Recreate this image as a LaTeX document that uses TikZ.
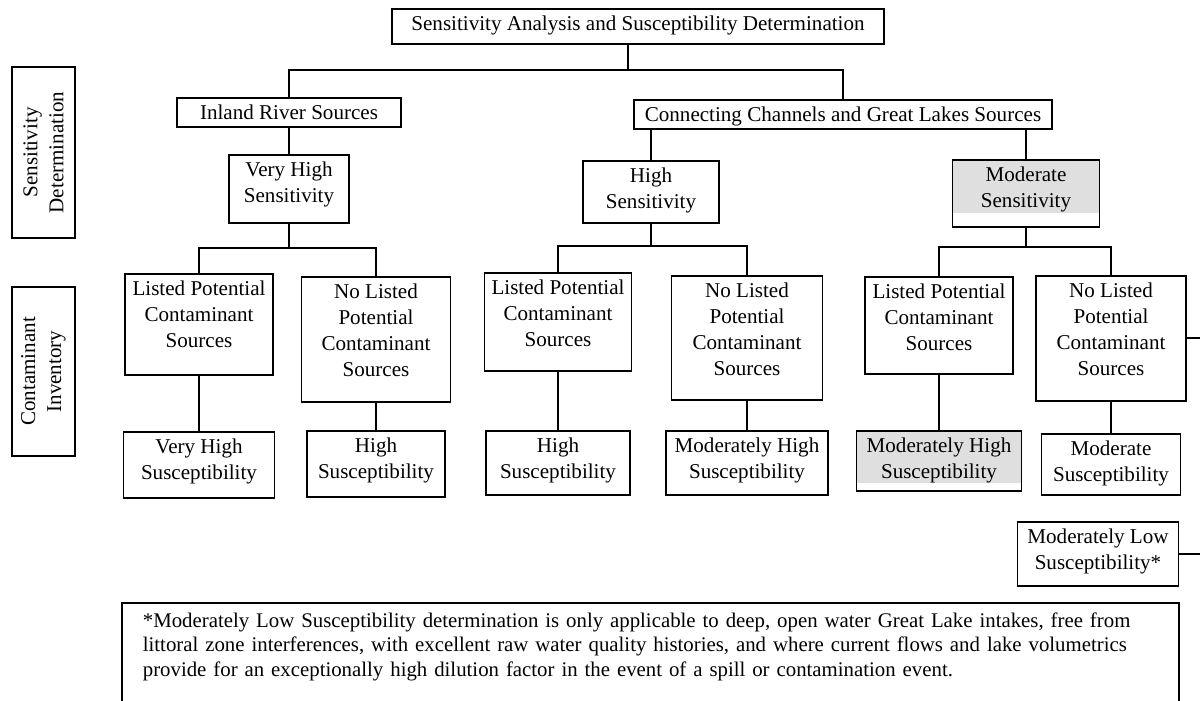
\documentclass[tikz,border=0pt]{standalone}
\usepackage{fontspec}
\setmainfont{Liberation Serif}
\newcommand{\boxtxt}[1]{\begin{tabular}[t]{@{}c@{}}#1\end{tabular}}

\begin{document}
\begin{tikzpicture}[x=0.02cm, y=-0.02cm, line width=1pt,
  box/.style={draw, anchor=north, inner sep=0pt, text height=0.44cm,
    font=\fontsize{12}{14.8}\selectfont},
  side/.style={draw, rotate=90, inner sep=0pt, align=center,
    minimum height=1.26cm, font=\fontsize{12}{14.8}\selectfont},
  greyed/.style={path picture={\fill[gray!25] (path picture bounding box.north west)
    rectangle ([yshift=#1]path picture bounding box.south east);}},
]
  \useasboundingbox (0,0) rectangle (1200,700);

  % side labels
  \node[side, minimum width=3.42cm] (sens) at (43.5,152.5) {Sensitivity\\Determination};
  \node[side, minimum width=3.38cm] (inv)  at (43.5,371.5) {Contaminant\\Inventory};

  % top levels
  \node[box, minimum width=9.84cm, text depth=0.26cm] (top)    at (638,8)  {Sensitivity Analysis and Susceptibility Determination};
  \node[box, minimum width=4.48cm, text depth=0.14cm] (inland) at (289,97) {Inland River Sources};
  \node[box, minimum width=8.36cm, text depth=0.14cm] (conn)   at (843,99) {Connecting Channels and Great Lakes Sources};

  % sensitivity
  \node[box, minimum width=2.4cm,  text depth=0.92cm] (vhs) at (289,154)  {\boxtxt{Very High\\Sensitivity}};
  \node[box, minimum width=2.72cm, text depth=0.8cm]  (hs)  at (651,160)  {\boxtxt{High\\Sensitivity}};
  \node[box, minimum width=2.94cm, text depth=0.9cm, greyed=0.28cm] (ms) at (1026,159) {\boxtxt{Moderate\\Sensitivity}};

  % contaminant inventory
  \node[box, minimum width=2.96cm, text depth=1.58cm] (l1) at (199,273)  {\boxtxt{Listed Potential\\Contaminant\\Sources}};
  \node[box, minimum width=2.98cm, text depth=2.06cm] (n1) at (376,276)  {\boxtxt{No Listed\\Potential\\Contaminant\\Sources}};
  \node[box, minimum width=2.94cm, text depth=1.52cm] (l2) at (558,272)  {\boxtxt{Listed Potential\\Contaminant\\Sources}};
  \node[box, minimum width=3.02cm, text depth=2.04cm] (n2) at (747,275)  {\boxtxt{No Listed\\Potential\\Contaminant\\Sources}};
  \node[box, minimum width=2.96cm, text depth=1.5cm]  (l3) at (939,276)  {\boxtxt{Listed Potential\\Contaminant\\Sources}};
  \node[box, minimum width=3.0cm,  text depth=2.06cm] (n3) at (1111,275) {\boxtxt{No Listed\\Potential\\Contaminant\\Sources}};

  % susceptibility
  \node[box, minimum width=3.02cm, text depth=0.88cm] (s1) at (199,431)  {\boxtxt{Very High\\Susceptibility}};
  \node[box, minimum width=2.76cm, text depth=0.88cm] (s2) at (376,430)  {\boxtxt{High\\Susceptibility}};
  \node[box, minimum width=2.88cm, text depth=0.84cm] (s3) at (558,430)  {\boxtxt{High\\Susceptibility}};
  \node[box, minimum width=3.24cm, text depth=0.84cm] (s4) at (747,430)  {\boxtxt{Moderately High\\Susceptibility}};
  \node[box, minimum width=3.3cm,  text depth=0.76cm, greyed=0.16cm] (s5) at (939,430) {\boxtxt{Moderately High\\Susceptibility}};
  \node[box, minimum width=2.78cm, text depth=0.78cm] (s6) at (1111,433) {\boxtxt{Moderate\\Susceptibility}};
  \node[box, minimum width=3.22cm, text depth=0.84cm] (s7) at (1098,521) {\boxtxt{Moderately Low\\Susceptibility*}};

  % footnote
  \node[draw, anchor=north west, inner xsep=0.42cm, inner ysep=0pt, text width=20.3cm,
    align=left, text height=0.5cm, text depth=1.66cm,
    font=\fontsize{11.85}{13.7}\selectfont] (note) at (121,602)
    {*Moderately Low Susceptibility determination is only applicable to deep, open water Great Lake intakes, free from\\
     littoral zone interferences, with excellent raw water quality histories, and where current flows and lake volumetrics\\
     provide for an exceptionally high dilution factor in the event of a spill or contamination event.};

  % junctions
  \coordinate (j0) at (628,70);
  \coordinate (j1) at (289,248);
  \coordinate (j2) at (651,246);
  \coordinate (j3) at (1026,247);
  \coordinate (edge) at (1200,0);

  % connectors
  \draw (top.south -| j0) -- (j0);
  \draw (inland.north) |- (j0) -| (conn.north);
  \draw (inland) -- (vhs);
  \draw (hs.north) -- (hs.north |- conn.south);
  \draw (ms.north) -- (ms.north |- conn.south);
  \draw (vhs) -- (j1);
  \draw (l1.north) |- (j1) -| (n1.north);
  \draw (hs) -- (j2);
  \draw (l2.north) |- (j2) -| (n2.north);
  \draw (ms) -- (j3);
  \draw (l3.north) |- (j3) -| (n3.north);
  \draw (l1) -- (s1);
  \draw (n1) -- (s2);
  \draw (l2) -- (s3);
  \draw (n2) -- (s4);
  \draw (l3) -- (s5);
  \draw (n3) -- (s6);
  \draw (n3.east) -- (n3.east -| edge);
  \draw (s7.east) -- (s7.east -| edge);
\end{tikzpicture}
\end{document}
